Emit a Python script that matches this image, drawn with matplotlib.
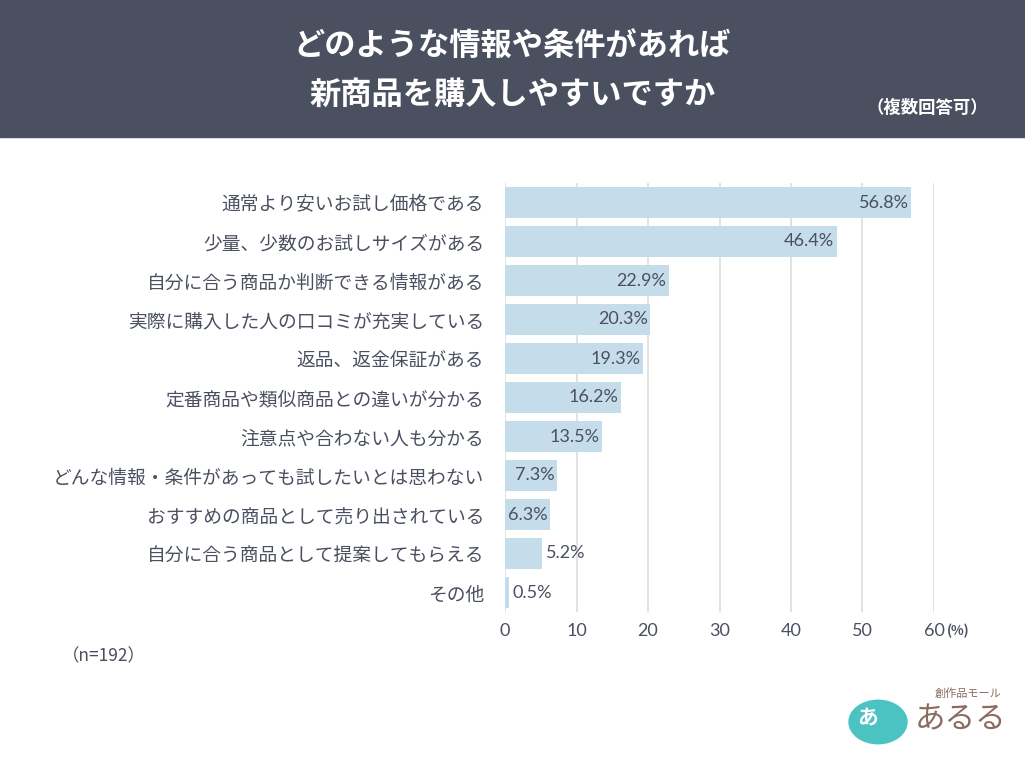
import matplotlib
matplotlib.use("Agg")
import matplotlib.pyplot as plt
from matplotlib.patches import Rectangle, Circle

plt.rcParams['font.family'] = ['Noto Sans CJK JP', 'DejaVu Sans']

categories = [
    "通常より安いお試し価格である",
    "少量、少数のお試しサイズがある",
    "自分に合う商品か判断できる情報がある",
    "実際に購入した人の口コミが充実している",
    "返品、返金保証がある",
    "定番商品や類似商品との違いが分かる",
    "注意点や合わない人も分かる",
    "どんな情報・条件があっても試したいとは思わない",
    "おすすめの商品として売り出されている",
    "自分に合う商品として提案してもらえる",
    "その他",
]
values = [56.8, 46.4, 22.9, 20.3, 19.3, 16.2, 13.5, 7.3, 6.3, 5.2, 0.5]
xticks = [0, 10, 20, 30, 40, 50, 60]

TXT = "#4a5060"
BAR = "#c5dcea"
HEAD = "#4a5060"
NUMFONT = ['Lato', 'DejaVu Sans']

fig = plt.figure(figsize=(10.25, 7.68), dpi=100)
fig.patch.set_facecolor("white")

# header band
fig.patches.append(Rectangle((0, 1 - 137 / 768), 1, 137 / 768, transform=fig.transFigure,
                             color=HEAD, zorder=0))
fig.text(0.5, 1 - 47 / 768, "どのような情報や条件があれば", ha="center", va="center",
         color="white", fontsize=22.5, fontweight="bold")
fig.text(0.5, 1 - 95 / 768, "新商品を購入しやすいですか", ha="center", va="center",
         color="white", fontsize=22.5, fontweight="bold")
fig.text(927 / 1025, 1 - 108 / 768, "（複数回答可）", ha="center", va="center",
         color="white", fontsize=12.5, fontweight="bold")

ax = fig.add_axes([505 / 1025, 1 - 612 / 768, 429 / 1025, 429 / 768])
y = list(range(len(categories)))
ax.barh(y, values, height=0.77, color=BAR, zorder=2)
ax.set_xlim(0, 60)
ax.set_ylim(10.5, -0.5)
ax.set_xticks(xticks)
ax.set_xticklabels([str(t) for t in xticks], fontsize=13, color=TXT, family=NUMFONT)
ax.set_yticks(y)
ax.set_yticklabels(categories, fontsize=13.5, color=TXT)
ax.tick_params(axis="both", length=0)
ax.tick_params(axis="x", pad=8)
ax.tick_params(axis="y", pad=15)
for s in ax.spines.values():
    s.set_visible(False)
for t in xticks:
    ax.axvline(t, color="#dddddd", lw=1.2, zorder=1)

for yi, v in zip(y, values):
    lab = f"{v:.1f}%"
    if v >= 6:
        ax.text(v - 0.35, yi, lab, ha="right", va="center", fontsize=13, color=TXT,
                family=NUMFONT, zorder=3)
    else:
        ax.text(v + 0.6, yi, lab, ha="left", va="center", fontsize=13, color=TXT,
                family=NUMFONT, zorder=3)

fig.text(947 / 1025, 1 - 631 / 768, "(%)", ha="left", va="center", fontsize=9.5,
         color=TXT, fontweight="bold")
fig.text(62 / 1025, 1 - 656 / 768, "（n=192）", ha="left", va="center", fontsize=12.5,
         color=TXT)

# logo
fig.patches.append(Circle((878 / 1025, 1 - 722 / 768), 29 / 1025, transform=fig.transFigure,
                          color="#4cc3c3", zorder=1))
fig.text(868 / 1025, 1 - 718 / 768, "あ", ha="center", va="center", fontsize=15,
         color="white", fontweight="bold")
fig.text(960 / 1025, 1 - 720 / 768, "あるる", ha="center", va="center", fontsize=22,
         color="#8b6b5f")
fig.text(968 / 1025, 1 - 694 / 768, "創作品モール", ha="center", va="center", fontsize=8,
         color="#8b6b5f")

fig.savefig("out.png", dpi=100, facecolor="white")
